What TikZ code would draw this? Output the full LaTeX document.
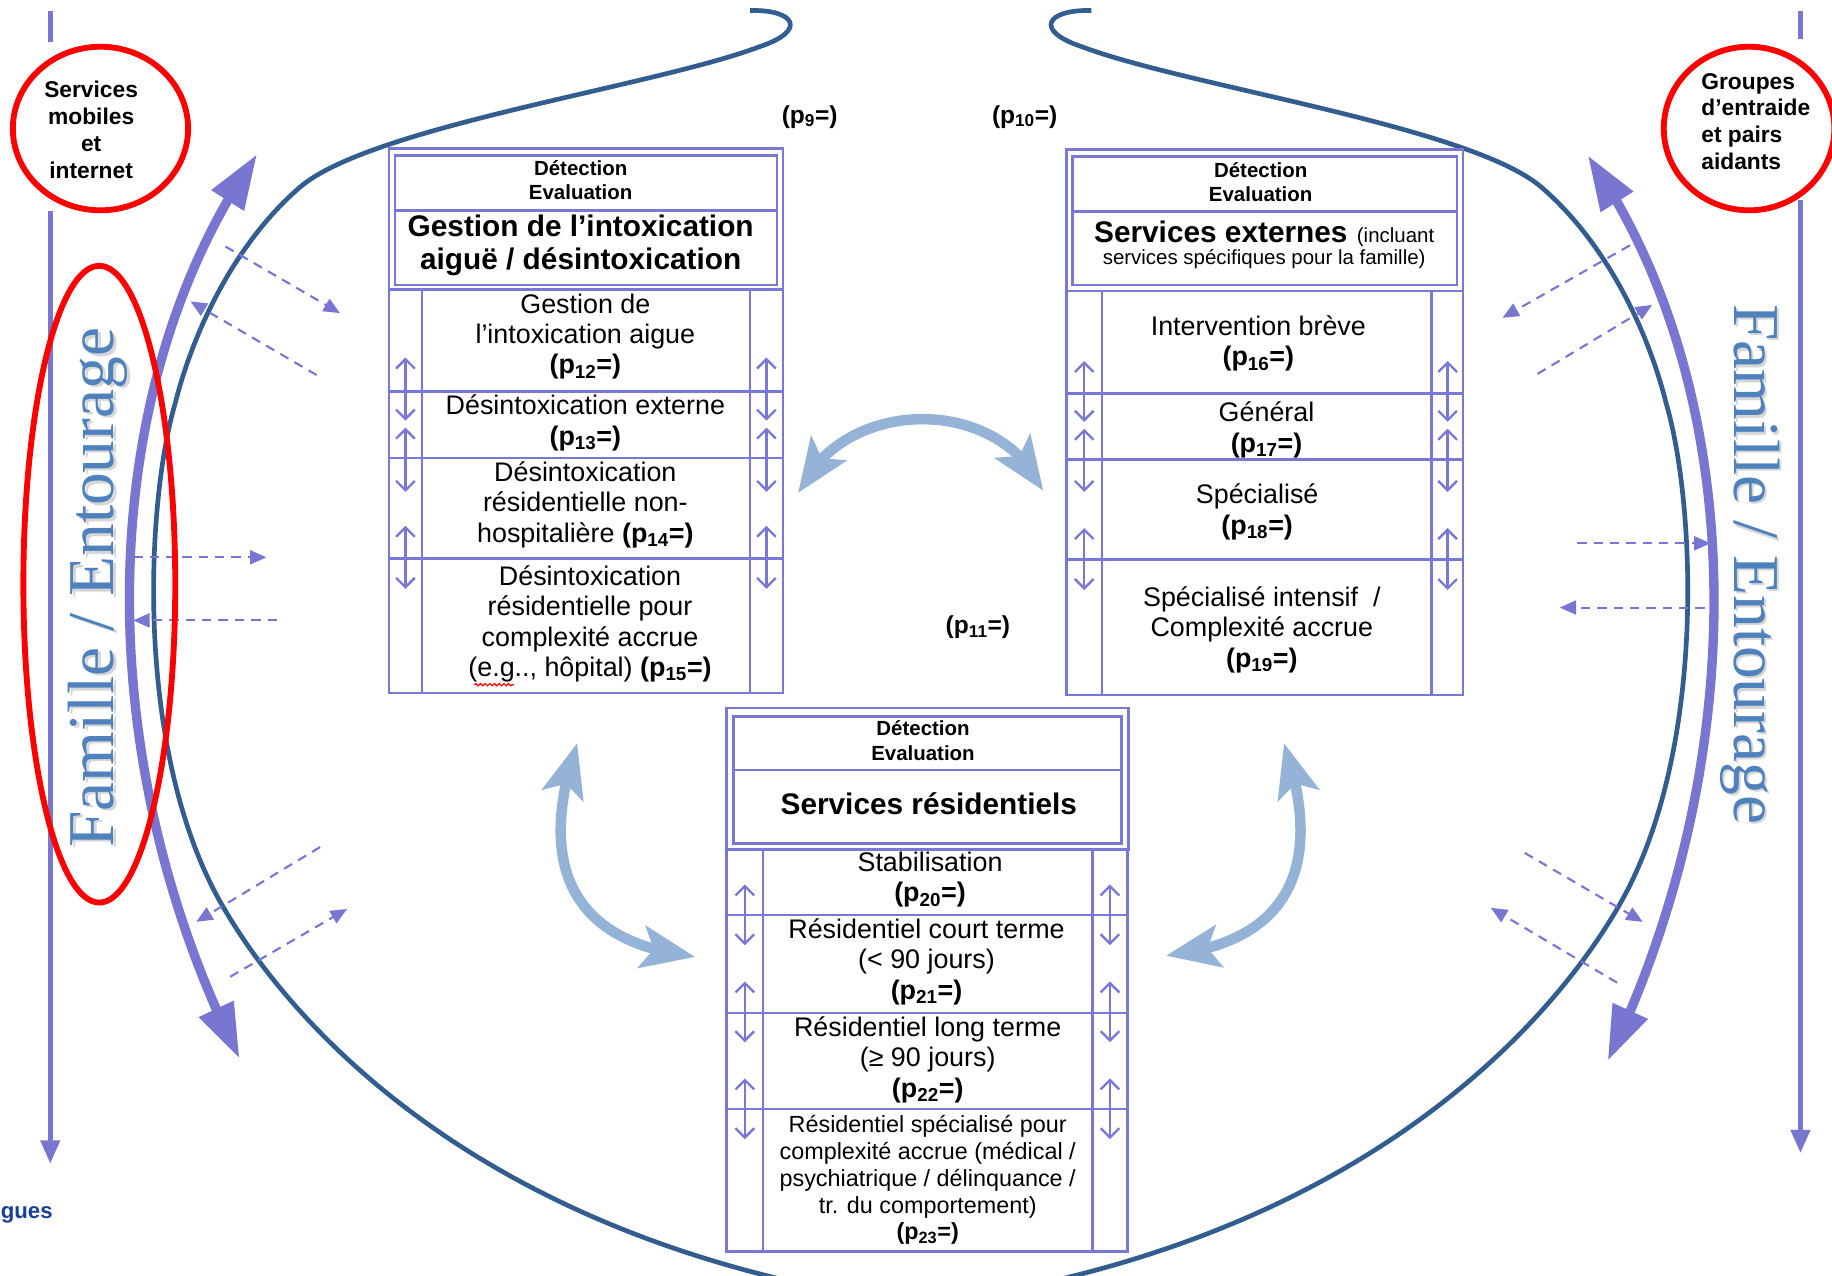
\documentclass[tikz,border=0pt]{standalone}
\usepackage{fontspec}
\setmainfont{Liberation Sans}
\newfontfamily\famfont{Liberation Serif}
\usetikzlibrary{arrows.meta,shapes.geometric,bending,decorations.pathmorphing}
\definecolor{boxc}{RGB}{122,120,214}
\definecolor{purp}{RGB}{121,118,209}
\definecolor{darkc}{RGB}{50,93,142}
\definecolor{lblue}{RGB}{148,179,215}
\definecolor{famc}{RGB}{79,129,189}
\definecolor{navyc}{RGB}{25,65,145}
\newcommand{\pv}[1]{\textbf{(p\textsubscript{#1}=)}}
\begin{document}
\begin{tikzpicture}[x=1pt,y=-1pt,
  frame/.style={draw=boxc, line width=2.2pt, inner sep=0pt, outer sep=0pt, anchor=north west},
  boxline/.style={draw=boxc, line width=2.2pt},
  hdr/.style={font=\fontsize{17.5}{21}\selectfont\bfseries, align=center, inner sep=0pt},
  ttl/.style={font=\fontsize{25.5}{28.5}\selectfont\bfseries, align=center, inner sep=0pt},
  rowt/.style={font=\fontsize{23}{26}\selectfont, align=center, inner sep=0pt},
  rowsm/.style={font=\fontsize{20}{23}\selectfont, align=center, inner sep=0pt},
  plab/.style={font=\fontsize{21}{24}\selectfont\bfseries, inner sep=0pt},
  ringtxt/.style={font=\fontsize{19.5}{23}\selectfont\bfseries, inner sep=0pt},
  updown/.style={draw=boxc, line width=2pt, {Straight Barb[length=8pt,width=16pt]}-{Straight Barb[length=8pt,width=16pt]}},
  dasharr/.style={draw=purp, line width=1.8pt, dash pattern=on 8pt off 6pt, -{Triangle[length=14pt,width=12pt]}},
  thickarc/.style={draw=purp, line width=8pt, {Triangle[length=47pt,width=31pt]}-{Triangle[length=47pt,width=31pt]}},
  lbarr/.style={draw=lblue, line width=9pt, {Stealth[length=46pt,width=36pt,inset=10pt]}-{Stealth[length=46pt,width=36pt,inset=10pt]}},
  vline/.style={draw=purp, line width=4.5pt},
  darkline/.style={draw=darkc, line width=4pt},
  redring/.style={draw=red, line width=5pt, ellipse, inner sep=0pt},
  famtxt/.style={font=\famfont\fontsize{56}{60}\selectfont, text=famc, inner sep=0pt},
  famshadow/.style={font=\famfont\fontsize{56}{60}\selectfont, text=black!45, opacity=0.35, inner sep=0pt}
]
\useasboundingbox (0,0) rectangle (1568,1092);
\fill[white] (0,0) rectangle (1568,1092);

% ---------- side vertical lines ----------
\coordinate (lt0) at (43,9);   \coordinate (lt1) at (43,36);
\coordinate (lv0) at (43,181); \coordinate (lv1) at (43,996);
\coordinate (rt0) at (1541,9); \coordinate (rt1) at (1541,33);
\coordinate (rv0) at (1541,171); \coordinate (rv1) at (1541,987);
\draw[vline] (lt0) -- (lt1);
\draw[vline] (rt0) -- (rt1);
\draw[vline, -{Triangle[length=20pt,width=16pt]}] (lv0) -- (lv1);
\draw[vline, -{Triangle[length=20pt,width=16pt]}] (rv0) -- (rv1);

% ---------- big dark curves ----------
\draw[darkline] (642,9) .. controls (680,8) and (692,26) .. (650,40)
  .. controls (560,74) and (318,108) .. (257,160)
  .. controls (200,209) and (165,285) .. (150,345)
  .. controls (125,430) and (115,640) .. (188,771)
  .. controls (230,846) and (360,1020) .. (665,1094);
\draw[darkline] (934,9) .. controls (896,8) and (884,26) .. (926,40)
  .. controls (1016,74) and (1258,108) .. (1319,160)
  .. controls (1376,209) and (1411,285) .. (1426,345)
  .. controls (1451,430) and (1461,640) .. (1388,771)
  .. controls (1346,846) and (1216,1020) .. (911,1094);

% ---------- Famille / Entourage ----------
\node[famshadow, rotate=90] (fam1s) at (86,505) {Famille / Entourage};
\node[famtxt, rotate=90] (fam1) at (84,503) {Famille / Entourage};
\node[famshadow, rotate=-90] (fam2s) at (1500,485) {Famille / Entourage};
\node[famtxt, rotate=-90] (fam2) at (1498,483) {Famille / Entourage};

% ---------- thick purple arcs ----------
\coordinate (ta1) at (205,906); \coordinate (ta2) at (220,132);
\coordinate (tb1) at (1376,908); \coordinate (tb2) at (1359,133);
\draw[thickarc] (ta1) .. controls (76,650) and (78,335) .. (ta2);
\draw[thickarc] (tb1) .. controls (1501,650) and (1499,335) .. (tb2);

% ---------- dashed arrows ----------
\coordinate (d1s) at (193,211);  \coordinate (d1e) at (291,268);
\coordinate (d2s) at (271,321);  \coordinate (d2e) at (163,258);
\coordinate (d3s) at (114,477);  \coordinate (d3e) at (228,477);
\coordinate (d4s) at (237,531);  \coordinate (d4e) at (114,531);
\coordinate (d5s) at (274,725);  \coordinate (d5e) at (168,789);
\coordinate (d6s) at (197,836);  \coordinate (d6e) at (297,778);
\coordinate (d7s) at (1395,210); \coordinate (d7e) at (1286,272);
\coordinate (d8s) at (1316,320); \coordinate (d8e) at (1414,261);
\coordinate (d9s) at (1350,465); \coordinate (d9e) at (1464,465);
\coordinate (d10s) at (1459,520); \coordinate (d10e) at (1335,520);
\coordinate (d11s) at (1305,730); \coordinate (d11e) at (1406,789);
\coordinate (d12s) at (1384,841); \coordinate (d12e) at (1276,777);
\foreach \i in {1,...,12} {\draw[dasharr] (d\i s) -- (d\i e);}

% ---------- light blue curved arrows ----------
\coordinate (la1) at (683,422); \coordinate (la2) at (893,420);
\coordinate (lb1) at (494,636); \coordinate (lb2) at (595,819);
\coordinate (lc1) at (1099,636); \coordinate (lc2) at (998,818);
\draw[lbarr] (la1) .. controls (722,338) and (856,338) .. (la2);
\draw[lbarr] (lb1) .. controls (464,725) and (475,805) .. (lb2);
\draw[lbarr] (lc1) .. controls (1129,725) and (1118,805) .. (lc2);

% ---------- left box ----------
\node[frame, minimum width=337pt, minimum height=121pt] (gHo) at (333,127) {};
\node[frame, minimum width=327pt, minimum height=111pt] (gHi) at (338,133) {};
\node[frame, minimum width=337pt, minimum height=345pt] (gTb) at (333,248) {};
\draw[boxline] (338,180) -- (665,180);
\draw[boxline] (361,248) -- (361,593);
\draw[boxline] (642,248) -- (642,593);
\foreach \yy in {335,392,478} {\draw[boxline] (333,\yy) -- (670,\yy);}
\node[hdr] (gH) at (497,154) {Détection\\Evaluation};
\node[ttl] (gT) at (497,210) {Gestion de l’intoxication\\aiguë / désintoxication};
\node[rowt] (g1) at (501,288) {Gestion de\\l’intoxication aigue\\ \pv{12}};
\node[rowt] (g2) at (501,362) {Désintoxication externe\\ \pv{13}};
\node[rowt] (g3) at (501,432) {Désintoxication\\résidentielle non-\\hospitalière \pv{14}};
\node[rowt] (g4) at (505,534) {Désintoxication\\résidentielle pour\\complexité accrue\\(e.g.., hôpital) \pv{15}};
\draw[red, line width=1pt, decorate, decoration={snake, amplitude=1pt, segment length=4pt}] (406,586) -- (440,586);

% ---------- right box ----------
\node[frame, minimum width=339pt, minimum height=121pt] (eHo) at (913,128) {};
\node[frame, minimum width=329pt, minimum height=110pt] (eHi) at (918,134) {};
\node[frame, minimum width=339pt, minimum height=346pt] (eTb) at (913,249) {};
\draw[boxline] (918,181) -- (1247,181);
\draw[boxline] (943,249) -- (943,595);
\draw[boxline] (1225,249) -- (1225,595);
\foreach \yy in {337,393.5,479} {\draw[boxline] (913,\yy) -- (1252,\yy);}
\node[hdr] (eH) at (1079,156) {Détection\\Evaluation};
\node[inner sep=0pt] (eT1) at (1082,200) {{\fontsize{25.5}{28}\selectfont\bfseries Services externes}\hspace{8pt}{\fontsize{17.5}{20}\selectfont(incluant}};
\node[font=\fontsize{17.5}{20}\selectfont, inner sep=0pt] (eT2) at (1082,222) {services spécifiques pour la famille)};
\node[rowt] (e1) at (1077,294) {Intervention brève\\ \pv{16}};
\node[rowt] (e2) at (1084,368) {Général\\ \pv{17}};
\node[rowt] (e3) at (1076,438) {Spécialisé\\ \pv{18}};
\node[rowt] (e4) at (1080,539) {Spécialisé intensif \ /\\Complexité accrue\\ \pv{19}};

% ---------- bottom box ----------
\node[frame, minimum width=344pt, minimum height=121pt] (rHo) at (622,606) {};
\node[frame, minimum width=332pt, minimum height=109pt] (rHi) at (628,613) {};
\node[frame, minimum width=343pt, minimum height=344pt] (rTb) at (622,727) {};
\draw[boxline] (628,659) -- (960,659);
\draw[boxline] (653,727) -- (653,1071);
\draw[boxline] (935,727) -- (935,1071);
\foreach \yy in {783,867,949} {\draw[boxline] (622,\yy) -- (965,\yy);}
\node[hdr] (rH) at (790,634) {Détection\\Evaluation};
\node[ttl] (rT) at (795,688) {Services résidentiels};
\node[rowt] (r1) at (796,753) {Stabilisation\\ \pv{20}};
\node[rowt] (r2) at (793,823) {Résidentiel court terme\\(< 90 jours)\\ \pv{21}};
\node[rowt] (r3) at (794,907) {Résidentiel long terme\\(≥ 90 jours)\\ \pv{22}};
\node[rowsm] (r4) at (794,1010) {Résidentiel spécialisé pour\\complexité accrue (médical /\\psychiatrique / délinquance /\\tr. du comportement)\\ \pv{23}};

% ---------- up/down arrows in side columns ----------
\foreach \x/\a/\b [count=\i] in {347/306/360, 347/366/421, 347/450/504, 656/306/360, 656/366/421, 656/450/504,
  928/309/361, 928/367/421, 928/452/505, 1239/309/361, 1239/367/421, 1239/452/505,
  637.5/757/809, 637.5/840/892, 637.5/923/975, 950/757/809, 950/840/892, 950/923/975}
  {\coordinate (ua\i) at (\x,\a); \coordinate (ub\i) at (\x,\b); \draw[updown] (ua\i) -- (ub\i);}

% ---------- p labels ----------
\node[plab] (p9) at (693,100) {\pv{9}};
\node[plab] (p10) at (877,100) {\pv{10}};
\node[plab] (p11) at (837,537) {\pv{11}};

% ---------- text bottom left ----------
\node[font=\fontsize{19}{23}\selectfont\bfseries, text=navyc, anchor=west, inner sep=0pt] (gues) at (0.5,1040) {gues};

% ---------- red rings ----------
\node[redring, minimum width=150pt, minimum height=140pt] (rc1) at (86,110) {};
\node[ringtxt, align=center] (t1) at (78,111) {Services\\mobiles\\et\\internet};
\node[redring, minimum width=146pt, minimum height=140pt] (rc2) at (1497,110) {};
\node[ringtxt, align=left, anchor=west] (t2) at (1456,104) {Groupes\\d’entraide\\et pairs\\aidants};
\node[redring, minimum width=130pt, minimum height=545pt] (rc3) at (85,500) {};
\end{tikzpicture}
\end{document}
